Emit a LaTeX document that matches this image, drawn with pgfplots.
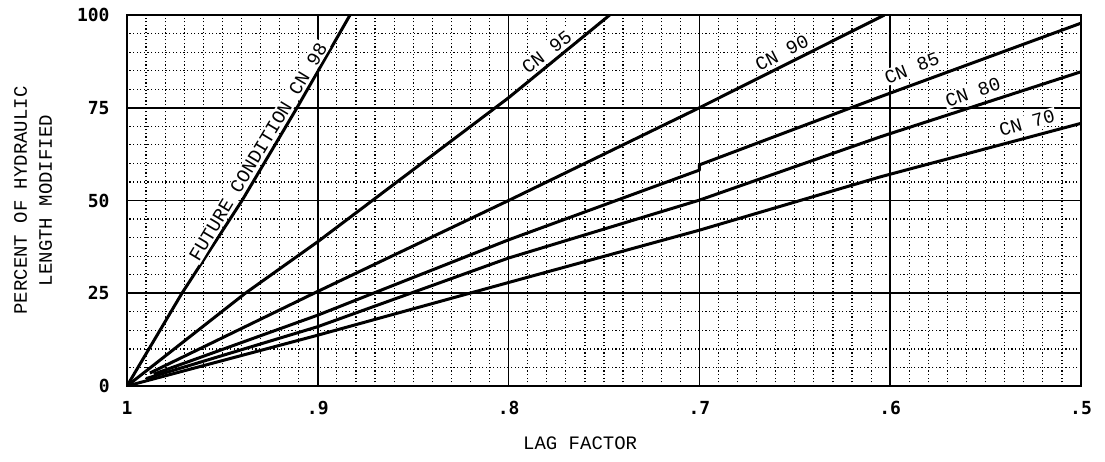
\documentclass[border=0pt]{standalone}
\usepackage{fontspec}
\usepackage{pgfplots}
\pgfplotsset{compat=1.18}
\newfontfamily\typefont{Liberation Mono}
\newfontfamily\tickfont{DejaVu Sans Mono}

\begin{document}
\begin{tikzpicture}
\begin{axis}[
  scale only axis,
  width=477pt, height=185.5pt,
  x dir=reverse,
  xmin=0.5, xmax=1, ymin=0, ymax=100,
  xtick={0.5,0.6,0.7,0.8,0.9,1},
  xticklabels={.5,.6,.7,.8,.9,1},
  ytick={0,25,50,75,100},
  minor x tick num=9, minor y tick num=4,
  grid=both,
  major grid style={black, line width=0.85pt},
  minor grid style={black, line width=0.6pt, dash pattern=on 0.6pt off 1.2pt},
  axis line style={black, line width=1.1pt},
  major tick length=0pt, minor tick length=0pt,
  /pgf/number format/assume math mode=true,
  tick label style={font=\tickfont\bfseries\fontsize{9}{10}\selectfont},
  xticklabel style={anchor=north, inner sep=0pt, yshift=-7.5pt},
  yticklabel style={anchor=east, inner sep=0pt, xshift=-8.5pt},
  xlabel={LAG FACTOR},
  xlabel style={at={(axis description cs:0.475,-0.1536)}, anchor=center,
    font=\typefont\fontsize{9.5}{10}\selectfont},
  ylabel={PERCENT OF HYDRAULIC\\LENGTH MODIFIED},
  ylabel style={at={(axis description cs:-0.0985,0.5)}, anchor=center,
    align=center, font=\typefont\fontsize{9.5}{12.5}\selectfont},
  cn/.style={black, no markers, line width=1.5pt, line join=round},
]
% future condition CN 98
\addplot[cn] coordinates {(1,0) (0.9712,25) (0.9397,50) (0.9109,75) (0.8831,100)};
% CN 95
\addplot[cn] coordinates {(1,0) (0.938,25) (0.9,38.9) (0.8,77.7) (0.747,100)};
% CN 90
\addplot[cn] coordinates {(0.988,3.5) (0.9,25.5) (0.8,50) (0.7,75) (0.603,100)};
% CN 85
\addplot[cn] coordinates {(0.986,3.2) (0.9,19.1) (0.8,39.4) (0.7,58.2) (0.7,59.6) (0.605,78) (0.5,97.8)};
% CN 80
\addplot[cn] coordinates {(0.99,2) (0.9,16.0) (0.8,34.5) (0.7,50.1) (0.605,67.2) (0.5,84.7)};
% CN 70
\addplot[cn] coordinates {(1,0) (0.9,13.7) (0.8,27.9) (0.7,42) (0.605,56.4) (0.5,70.8)};

\tikzset{cnlabel/.style={fill=white, inner sep=0.8pt, font=\typefont\fontsize{9.5}{10}\selectfont}}
\node[cnlabel, rotate=59] at (axis cs:0.9313,63.1) {FUTURE CONDITION CN 98};
\node[cnlabel, rotate=37] at (axis cs:0.780,90.0) {CN 95};
\node[cnlabel, rotate=27] at (axis cs:0.6567,89.8) {CN 90};
\node[cnlabel, rotate=21] at (axis cs:0.5886,85.7) {CN 85};
\node[cnlabel, rotate=19] at (axis cs:0.5566,79.2) {CN 80};
\node[cnlabel, rotate=16] at (axis cs:0.5283,70.9) {CN 70};
\end{axis}
\pgfresetboundingbox
\path ([shift={(-63.5pt,-37.5pt)}]current axis.south west) rectangle ([shift={(12pt,7.5pt)}]current axis.north east);
\end{tikzpicture}
\end{document}
